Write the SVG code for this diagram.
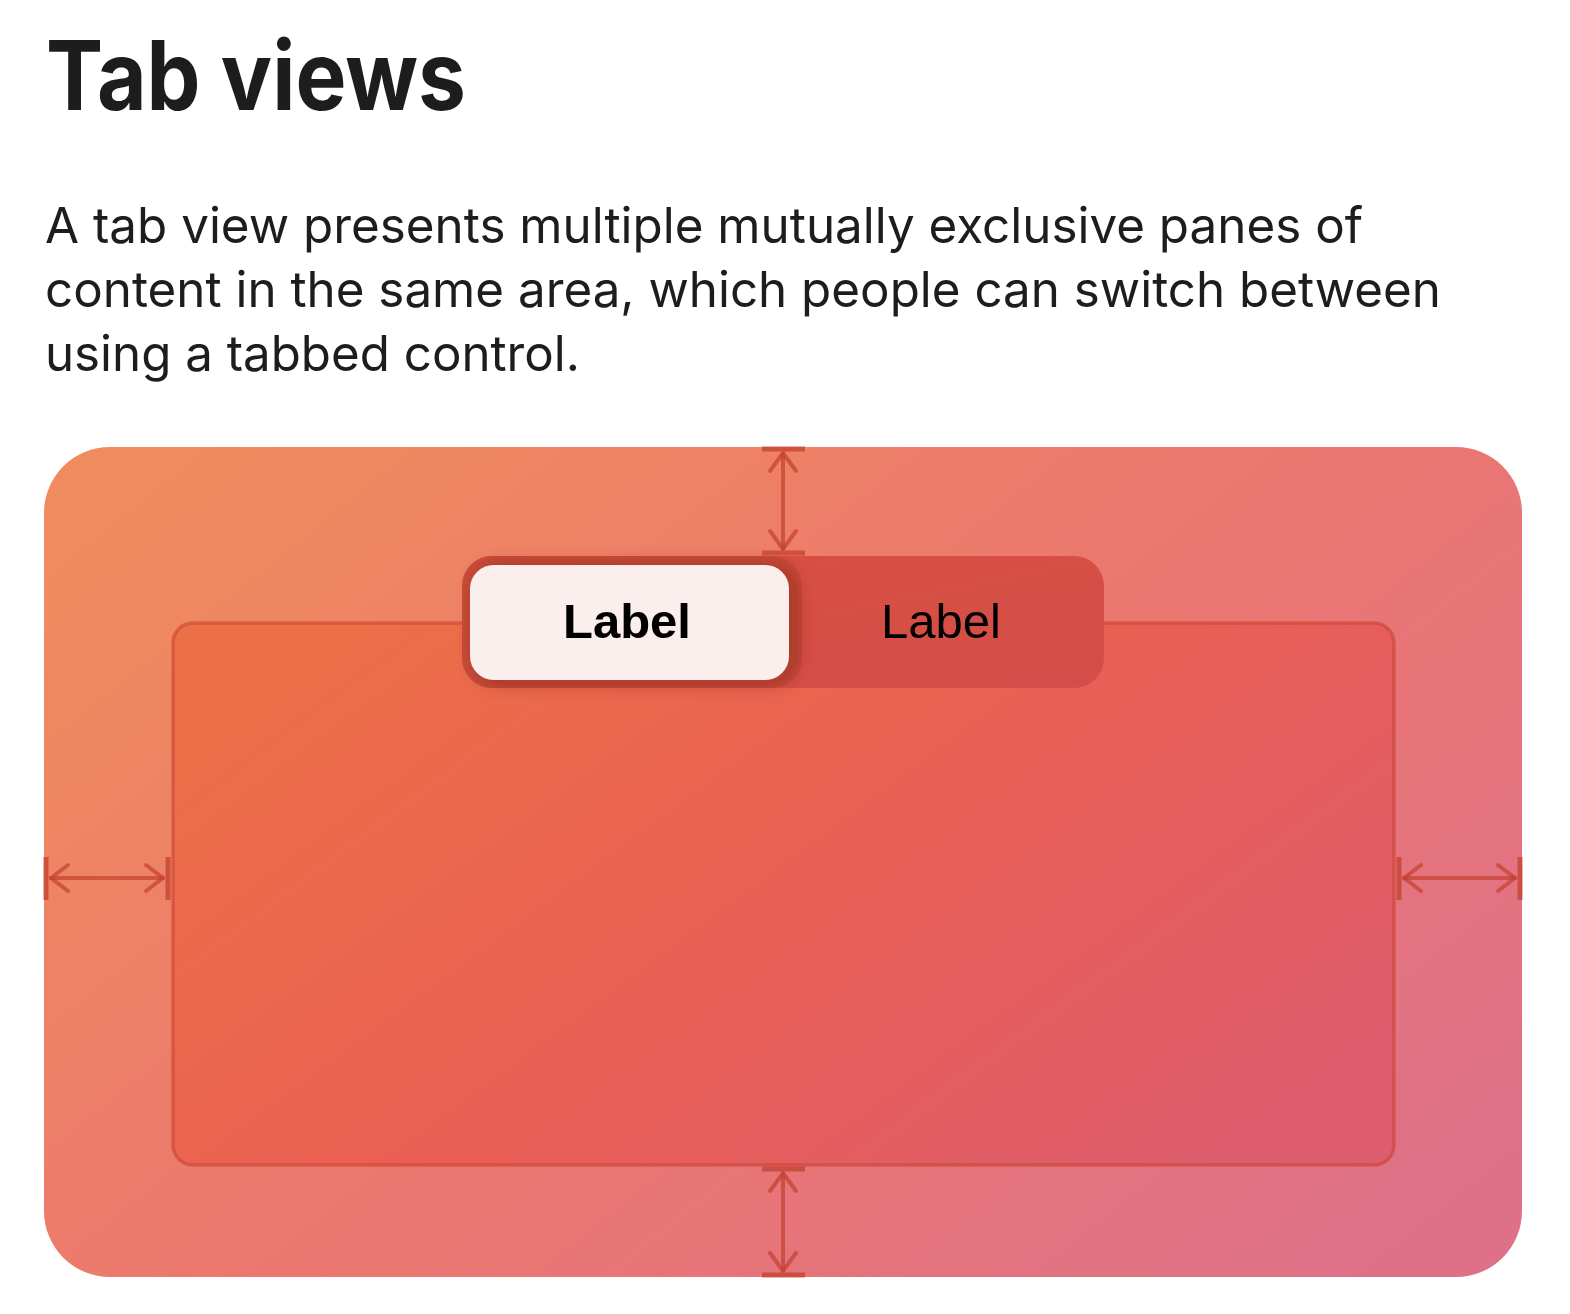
<svg xmlns="http://www.w3.org/2000/svg" width="1570" height="1314" viewBox="0 0 1570 1314">
  <defs>
    <linearGradient id="gOuter" x1="0" y1="0.15" x2="1" y2="0.85">
      <stop offset="0" stop-color="#F08B5E"/>
      <stop offset="0.5" stop-color="#EC776F"/>
      <stop offset="1" stop-color="#DE7188"/>
    </linearGradient>
    <linearGradient id="gInner" x1="0" y1="0.2" x2="1" y2="0.8">
      <stop offset="0" stop-color="#EC7047"/>
      <stop offset="0.5" stop-color="#EA5F54"/>
      <stop offset="1" stop-color="#DD5D6E"/>
    </linearGradient>
    <linearGradient id="gTab" x1="0" y1="0" x2="1" y2="1">
      <stop offset="0" stop-color="#D9503F"/>
      <stop offset="1" stop-color="#D44E4A"/>
    </linearGradient>
    <filter id="shadow" x="-20%" y="-30%" width="150%" height="160%">
      <feDropShadow dx="6" dy="2" stdDeviation="10" flood-color="#6A1A10" flood-opacity="0.45"/>
    </filter>
    <style>
      .title { font-family: Inter, "Liberation Sans", sans-serif; font-weight: 700; font-size: 96px; fill: #1D1D1F; }
      .body { font-family: Inter, "Liberation Sans", sans-serif; font-size: 49.5px; fill: #1D1D1F; }
      .lbl { font-family: "Liberation Sans", Arial, sans-serif; font-size: 49px; fill: #000; text-anchor: middle; }
      .meas { stroke: #C3402F; stroke-opacity: 0.7; stroke-width: 4; fill: none; stroke-linecap: round; stroke-linejoin: round; }
      .cap { stroke: #C3402F; stroke-opacity: 0.75; stroke-width: 5; fill: none; }
    </style>
  </defs>

  <g id="heading">
    <text class="title" x="46" y="110" textLength="420" lengthAdjust="spacingAndGlyphs">Tab views</text>
  </g>
  <g id="description">
    <text class="body" x="45" y="243" textLength="1318" lengthAdjust="spacingAndGlyphs">A tab view presents multiple mutually exclusive panes of</text>
    <text class="body" x="45" y="307" textLength="1396" lengthAdjust="spacingAndGlyphs">content in the same area, which people can switch between</text>
    <text class="body" x="45" y="371" textLength="535" lengthAdjust="spacingAndGlyphs">using a tabbed control.</text>
  </g>

  <g id="window">
    <rect x="44" y="447" width="1478" height="830" rx="66" fill="url(#gOuter)"/>
  </g>

  <g id="content-pane">
    <rect x="173" y="623" width="1221" height="542" rx="20" fill="url(#gInner)" stroke="#C8402F" stroke-opacity="0.55" stroke-width="3.5"/>
  </g>

  <g id="tab-control">
    <rect x="462" y="556" width="642" height="132" rx="30" fill="url(#gTab)"/>
    <rect x="462" y="556" width="340" height="132" rx="30" fill="#B94A33" opacity="0.55"/>
    <rect x="470" y="565" width="319" height="115" rx="24" fill="#FBEFEE" filter="url(#shadow)"/>
    <text class="lbl" x="627" y="638" font-weight="700">Label</text>
    <text class="lbl" x="941" y="638">Label</text>
  </g>

  <g id="connectors">
    <line class="cap" x1="762" y1="449" x2="805" y2="449"/>
    <line class="cap" x1="762" y1="553" x2="805" y2="553"/>
    <line class="meas" x1="783" y1="454" x2="783" y2="548"/>
    <polyline class="meas" points="770,471 783,453 796,471"/>
    <polyline class="meas" points="770,531 783,549 796,531"/>
    <line class="cap" x1="762" y1="1169" x2="805" y2="1169"/>
    <line class="cap" x1="762" y1="1275" x2="805" y2="1275"/>
    <line class="meas" x1="783" y1="1174" x2="783" y2="1270"/>
    <polyline class="meas" points="770,1191 783,1173 796,1191"/>
    <polyline class="meas" points="770,1253 783,1271 796,1253"/>
    <line class="cap" x1="46" y1="857" x2="46" y2="900"/>
    <line class="cap" x1="168" y1="857" x2="168" y2="900"/>
    <line class="meas" x1="51" y1="878" x2="163" y2="878"/>
    <polyline class="meas" points="68,865 51,878 68,891"/>
    <polyline class="meas" points="146,865 163,878 146,891"/>
    <line class="cap" x1="1399" y1="857" x2="1399" y2="900"/>
    <line class="cap" x1="1520" y1="857" x2="1520" y2="900"/>
    <line class="meas" x1="1404" y1="878" x2="1515" y2="878"/>
    <polyline class="meas" points="1421,865 1404,878 1421,891"/>
    <polyline class="meas" points="1498,865 1515,878 1498,891"/>
  </g>
</svg>
